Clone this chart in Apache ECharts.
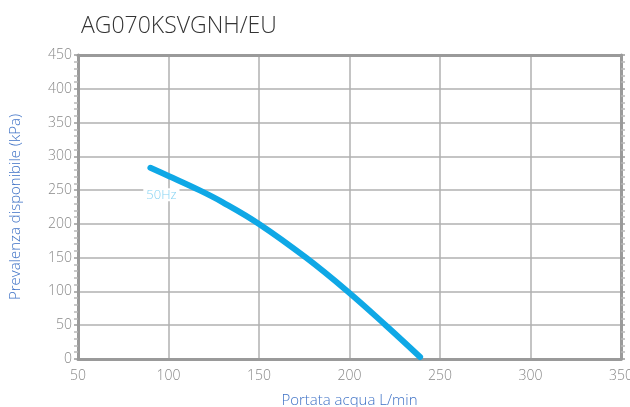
<!DOCTYPE html>
<html>
<head>
<meta charset="utf-8">
<script src="https://cdn.jsdelivr.net/npm/echarts@6/dist/echarts.min.js"></script>
<style>
  html, body { margin: 0; padding: 0; background: #fff; overflow: hidden; }
  #chart { width: 630px; height: 407px; }
</style>
</head>
<body>
<div id="chart"></div>
<script>
// Pump curve: available head vs water flow
const chartTitle = 'AG070KSVGNH/EU';
const xName = 'Portata acqua L/min';
const yName = 'Prevalenza disponibile (kPa)';
const seriesName = '50Hz';
const flow = [90, 100, 117, 130, 150, 176, 199, 220, 239];   // L/min
const head = [283, 271, 250, 232, 200, 150, 100, 50, 3];     // kPa

const FONT = '"Open Sans", "Noto Sans", sans-serif';
const AXIS_GREY = '#9a9a9a';
const GRID_GREY = '#b0b0b0';

const points = flow.map((f, i) => {
  const item = { value: [f, head[i]] };
  if (i === 0) {
    item.label = {
      show: true,
      formatter: seriesName,
      position: 'bottom',
      distance: 20,
      offset: [11, 0],
      color: '#86d3f3',
      fontFamily: FONT,
      fontSize: 13,
      fontWeight: 300,
      backgroundColor: '#fff',
      padding: [0, 3]
    };
  }
  return item;
});

const chart = echarts.init(document.getElementById('chart'), null, { renderer: 'canvas' });
chart.setOption({
  animation: false,
  backgroundColor: '#fff',
  title: {
    text: chartTitle,
    left: 76,
    top: 10,
    textStyle: { fontFamily: FONT, fontSize: 23, fontWeight: 300, color: '#333' }
  },
  grid: { left: 78, right: 9, top: 55, bottom: 48, containLabel: false, outerBoundsMode: 'none' },
  xAxis: [{
    type: 'value',
    min: 50, max: 350, interval: 50,
    name: xName,
    nameLocation: 'middle',
    nameGap: 34,
    nameTextStyle: { color: '#3f72c6', fontFamily: FONT, fontSize: 15, fontWeight: 300 },
    axisLine: { show: true, lineStyle: { color: AXIS_GREY, width: 3 } },
    axisTick: { show: false },
    axisLabel: { color: '#888', fontFamily: FONT, fontSize: 14, fontWeight: 300, margin: 10 },
    splitLine: { show: true, lineStyle: { color: GRID_GREY, width: 1.5 } }
  }, {
    type: 'value',
    position: 'top',
    min: 50, max: 350, interval: 50,
    axisLine: { show: true, onZero: false, lineStyle: { color: AXIS_GREY, width: 3 } },
    axisTick: { show: false },
    axisLabel: { show: false },
    splitLine: { show: false }
  }],
  yAxis: [{
    type: 'value',
    min: 0, max: 450, interval: 50,
    name: yName,
    nameLocation: 'middle',
    nameGap: 55,
    nameTextStyle: { color: '#3f72c6', fontFamily: FONT, fontSize: 15, fontWeight: 300 },
    axisLine: { show: true, lineStyle: { color: AXIS_GREY, width: 3 } },
    axisTick: { show: true, length: 4, lineStyle: { color: AXIS_GREY, width: 1.5 } },
    minorTick: { show: true, splitNumber: 5, length: 4, lineStyle: { color: '#b8b8b8', width: 1.5 } },
    axisLabel: { color: '#888', fontFamily: FONT, fontSize: 14, fontWeight: 300, margin: 6 },
    splitLine: { show: true, lineStyle: { color: GRID_GREY, width: 1.5 } }
  }, {
    type: 'value',
    position: 'right',
    min: 0, max: 450, interval: 50,
    axisLine: { show: true, onZero: false, lineStyle: { color: AXIS_GREY, width: 3 } },
    axisTick: { show: true, length: 4, lineStyle: { color: AXIS_GREY, width: 1.5 } },
    minorTick: { show: true, splitNumber: 5, length: 4, lineStyle: { color: '#b8b8b8', width: 1.5 } },
    axisLabel: { show: false },
    splitLine: { show: false }
  }],
  series: [{
    name: seriesName,
    type: 'line',
    xAxisIndex: 0,
    yAxisIndex: 0,
    smooth: 0.4,
    symbol: 'circle',
    symbolSize: 1,
    showSymbol: true,
    itemStyle: { color: '#0fa8e6' },
    lineStyle: { color: '#0fa8e6', width: 6, cap: 'round', join: 'round' },
    data: points
  }]
});
</script>
</body>
</html>
